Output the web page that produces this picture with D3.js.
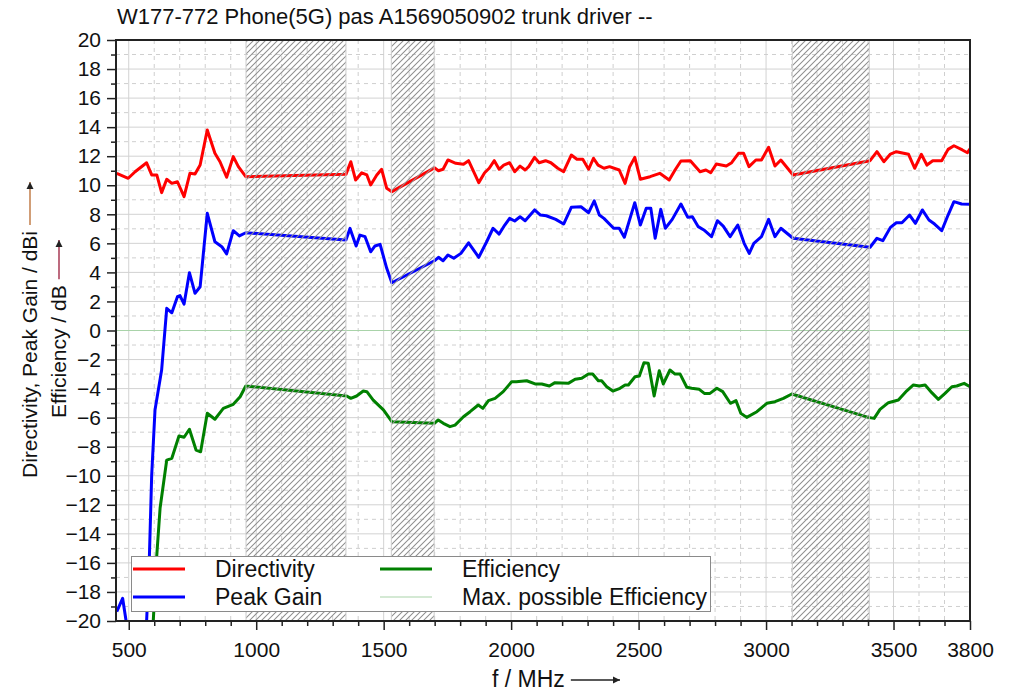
<!DOCTYPE html>
<html><head><meta charset="utf-8">
<script src="https://cdn.jsdelivr.net/npm/d3@7"></script>
<style>
html,body{margin:0;padding:0;background:#fff;}
svg{display:block;font-family:"Liberation Sans",Arial,sans-serif;}
</style></head>
<body>
<svg id="chart" width="1020" height="693"></svg>
<script>
const titleText = "W177-772 Phone(5G) pas A1569050902 trunk driver --";
const xTicks = [500,1000,1500,2000,2500,3000,3500,3800];
const yTicks = [-20,-18,-16,-14,-12,-10,-8,-6,-4,-2,0,2,4,6,8,10,12,14,16,18,20];
const hatchBands = [[960,1352],[1530,1698],[3103,3405]];
const seriesNames = ["Directivity","Peak Gain","Efficiency","Max. possible Efficiency"];

const dirFreq = [453,498,525,570,590,610,629,649,669,691,717,740,760,780,808,838,858,884,910,930,959,
 1352,1371,1390,1414,1434,1449,1473,1492,1512,1532,1699,1715,1733,1752,1783,1813,1833,1873,1896,1914,1934,1953,1971,1994,
 2014,2035,2055,2069,2092,2110,2135,2156,2183,2206,2236,2258,2281,2304,2323,2341,2364,2386,2424,2447,2465,2485,
 2507,2545,2583,2620,2643,2666,2703,2741,2764,2783,2805,2844,2865,2892,2912,2933,2960,2982,3010,3035,3058,3106,
 3408,3435,3462,3488,3511,3559,3583,3609,3631,3654,3689,3714,3737,3770,3790,3800];
const dirVal = [10.82,10.48,10.93,11.55,10.71,10.71,9.49,10.41,10.13,10.24,9.21,10.82,10.77,11.39,13.80,12.20,11.62,10.55,11.97,11.28,10.59,
 10.75,11.62,10.36,10.86,10.71,10.02,10.71,11.10,9.79,9.56,11.2,11.0,11.10,11.74,11.51,11.44,11.69,10.18,10.86,11.17,11.69,11.10,11.39,11.55,
 10.93,11.32,11.05,11.28,11.92,11.55,11.69,11.55,11.17,10.93,12.08,11.79,11.79,11.10,11.86,11.39,11.17,11.28,11.05,10.13,11.28,11.92,
 10.41,10.59,10.82,10.36,11.05,11.67,11.69,10.93,11.05,10.86,11.46,11.32,11.55,12.20,12.20,11.28,11.74,11.74,12.61,11.32,11.74,10.71,
 11.69,12.31,11.62,12.15,12.31,12.13,11.17,12.13,11.39,11.69,11.69,12.47,12.72,12.43,12.24,12.5];

const gainFreq = [453,476,489,501,535,570,581,590,603,629,649,669,691,701,717,738,760,780,808,838,865,884,910,934,959,
 1352,1368,1392,1407,1427,1449,1466,1486,1512,1532,1699,1715,1733,1752,1775,1803,1833,1873,1904,1929,1953,1975,1994,
 2014,2035,2055,2092,2115,2138,2175,2206,2236,2274,2304,2326,2346,2364,2402,2424,2444,2485,2507,2530,2548,2565,2587,
 2605,2632,2666,2693,2711,2734,2756,2786,2809,2832,2859,2889,2914,2934,2952,2982,3010,3035,3058,3106,
 3408,3435,3458,3488,3511,3533,3563,3586,3613,3639,3661,3689,3714,3737,3767,3800];
const gainVal = [-19.36,-18.44,-19.93,-21.3,-23,-20.05,-15.57,-9.95,-5.47,-2.72,1.53,1.22,2.33,2.40,1.82,3.98,2.56,3.01,8.07,6.11,5.77,5.27,6.87,6.51,6.73,
 6.23,7.03,5.82,6.57,6.46,5.42,5.82,5.93,4.28,3.29,4.80,5.04,4.80,5.20,4.97,5.31,6.04,5.04,6.11,7.04,6.64,7.26,7.72,
 7.54,7.83,7.56,8.30,7.95,7.90,7.65,7.33,8.48,8.52,8.11,8.92,7.95,7.72,7.04,7.04,6.42,8.80,7.26,8.41,8.41,6.35,8.34,
 7.04,7.65,8.71,7.79,7.83,7.15,6.92,6.46,7.56,7.19,6.46,7.26,6.0,5.31,6.0,6.46,7.65,6.46,7.04,6.35,
 5.73,6.35,6.18,7.10,7.42,7.42,7.95,7.38,8.30,7.61,7.33,6.87,7.95,8.87,8.71,8.69];

const effFreq = [585,596,610,623,649,669,697,717,738,764,782,808,838,871,910,937,959,
 1355,1371,1394,1420,1434,1459,1499,1532,1699,1714,1734,1760,1780,1813,1839,1871,1889,1911,1937,1969,
 2002,2020,2061,2094,2120,2150,2172,2224,2251,2277,2303,2320,2342,2355,2375,2399,2427,2447,2460,2486,
 2503,2521,2538,2561,2581,2597,2623,2643,2663,2689,2708,2738,2758,2780,2807,2830,2860,2882,2901,2924,2964,
 3003,3035,3068,3101,3401,3424,3447,3480,3519,3552,3578,3601,3624,3650,3676,3702,3729,3748,3777,3800];
const effVal = [-21.3,-20.05,-15.46,-12.22,-8.92,-8.80,-7.26,-7.35,-6.80,-8.23,-8.35,-5.70,-6.11,-5.36,-5.08,-4.56,-3.82,
 -4.51,-4.67,-4.51,-4.17,-4.21,-4.79,-5.47,-6.28,-6.39,-6.16,-6.39,-6.62,-6.51,-5.94,-5.59,-5.13,-5.36,-4.83,-4.67,-4.21,
 -3.53,-3.53,-3.46,-3.68,-3.68,-3.82,-3.59,-3.64,-3.36,-3.29,-3.0,-3.0,-3.46,-3.46,-3.87,-4.17,-3.98,-3.75,-3.75,-3.18,
 -3.13,-2.22,-2.26,-4.51,-2.77,-3.68,-2.72,-3.0,-3.0,-3.91,-3.98,-4.05,-4.33,-4.33,-3.98,-4.21,-5.01,-4.83,-5.70,-5.98,-5.59,
 -5.01,-4.90,-4.67,-4.37,-5.98,-6.05,-5.43,-4.97,-4.79,-4.15,-3.75,-3.82,-3.75,-4.28,-4.74,-4.33,-3.87,-3.82,-3.64,-3.87];

const maxEffFreq = [450,3800];
const maxEffVal = [0,0];

const svg = d3.select("#chart");
const L=116,R=970,T=40,B=621;
const x = d3.scaleLinear().domain([450,3800]).range([L,R]);
const y = d3.scaleLinear().domain([-20,20]).range([B,T]);

const defs = svg.append("defs");
defs.append("clipPath").attr("id","plotclip").append("rect")
  .attr("x",L).attr("y",T).attr("width",R-L).attr("height",B-T);
const pat = defs.append("pattern").attr("id","hatch").attr("patternUnits","userSpaceOnUse")
  .attr("width",6).attr("height",6);
pat.append("path").attr("d","M-1,1 l2,-2 M0,6 l6,-6 M5,7 l2,-2")
  .attr("stroke","#8e8e8e").attr("stroke-width",1.05).attr("fill","none");

// grid
const grid = svg.append("g");
const vMinor = d3.range(500,3800,100);
grid.selectAll("line.v").data(vMinor).join("line")
  .attr("x1",d=>x(d)).attr("x2",d=>x(d)).attr("y1",T).attr("y2",B)
  .attr("stroke",d=>d%500===0?"#d2d2d2":"#cfcfcf")
  .attr("stroke-dasharray",d=>d%500===0?null:"4,4").attr("stroke-width",1);
const hMinor = d3.range(-19,20,1);
grid.selectAll("line.h").data(hMinor).join("line")
  .attr("y1",d=>y(d)).attr("y2",d=>y(d)).attr("x1",L).attr("x2",R)
  .attr("stroke",d=>d%2===0?"#d2d2d2":"#cfcfcf")
  .attr("stroke-dasharray",d=>d%2===0?null:"4,4").attr("stroke-width",1);

// series
const plot = svg.append("g").attr("clip-path","url(#plotclip)");
const line = d3.line().x(d=>x(d[0])).y(d=>y(d[1]));
plot.append("path").datum(maxEffFreq.map((f,i)=>[f,maxEffVal[i]]))
  .attr("d",line).attr("fill","none").attr("stroke","#a9d3a9").attr("stroke-width",1);
const series = [
  {f:effFreq,v:effVal,c:"#008000"},
  {f:gainFreq,v:gainVal,c:"#0000ff"},
  {f:dirFreq,v:dirVal,c:"#ff0000"}
];
series.forEach(s=>{
  plot.append("path").datum(s.f.map((f,i)=>[f,s.v[i]]))
    .attr("d",line).attr("fill","none").attr("stroke",s.c)
    .attr("stroke-width",3).attr("stroke-linejoin","round");
});

// hatch bands
svg.append("g").selectAll("rect").data(hatchBands).join("rect")
  .attr("x",d=>x(d[0])).attr("width",d=>x(d[1])-x(d[0]))
  .attr("y",T).attr("height",B-T)
  .attr("fill","url(#hatch)").attr("stroke","#cccccc").attr("stroke-width",1);

// axes
const fs = 21;
const xMajor = d3.axisBottom(x).tickValues(xTicks).tickSize(9).tickPadding(12).tickFormat(d3.format("d"));
const xMin = d3.axisBottom(x).tickValues(d3.range(500,3800,100).filter(d=>d%500!==0)).tickSize(5).tickFormat("");
const gx = svg.append("g").attr("transform",`translate(0,${B})`).call(xMajor);
svg.append("g").attr("transform",`translate(0,${B})`).call(xMin).select(".domain").remove();
const yMajor = d3.axisLeft(y).tickValues(yTicks).tickSize(9).tickPadding(6);
const yMin = d3.axisLeft(y).tickValues(d3.range(-19,20,2)).tickSize(5).tickFormat("");
const gy = svg.append("g").attr("transform",`translate(${L},0)`).call(yMajor);
svg.append("g").attr("transform",`translate(${L},0)`).call(yMin).select(".domain").remove();
svg.selectAll(".tick line").attr("stroke","#222").attr("stroke-width",1.5);
svg.selectAll(".domain").remove();
[gx,gy].forEach(g=>g.selectAll("text").attr("font-size",fs).attr("fill","#111")
  .attr("font-family","'Liberation Sans',Arial,sans-serif"));
// frame
svg.append("rect").attr("x",L).attr("y",T).attr("width",R-L).attr("height",B-T)
  .attr("fill","none").attr("stroke","#222").attr("stroke-width",2);

// title
svg.append("text").attr("x",117).attr("y",24).attr("font-size",22).attr("fill","#111").text(titleText);

function arrow(x1,y1,x2,y2,col){
  const g=svg.append("g");
  g.append("line").attr("x1",x1).attr("y1",y1).attr("x2",x2).attr("y2",y2)
    .attr("stroke",col).attr("stroke-width",1.3);
  const ang=Math.atan2(y2-y1,x2-x1), a=7, w=3.5;
  const p=[[x2,y2],[x2-a*Math.cos(ang)+w*Math.sin(ang),y2-a*Math.sin(ang)-w*Math.cos(ang)],
           [x2-a*Math.cos(ang)-w*Math.sin(ang),y2-a*Math.sin(ang)+w*Math.cos(ang)]];
  g.append("path").attr("d","M"+p.map(q=>q.join(",")).join("L")+"Z").attr("fill","#222");
}

// x title
const xt = svg.append("text").attr("x",492).attr("y",687).attr("font-size",23).attr("fill","#111").text("f / MHz");
const xtw = xt.node().getComputedTextLength();
arrow(492+xtw+6,680,620,680,"#222");

// y titles
const y1t = svg.append("text").attr("transform","translate(37,478) rotate(-90)")
  .attr("font-size",fs).attr("fill","#111").text("Directivity, Peak Gain / dBi");
const y1w = y1t.node().getComputedTextLength();
arrow(30,478-y1w-6,30,182,"#b8692e");
const y2t = svg.append("text").attr("transform","translate(66,418) rotate(-90)")
  .attr("font-size",fs).attr("fill","#111").text("Efficiency / dB");
const y2w = y2t.node().getComputedTextLength();
arrow(59,418-y2w-6,59,240,"#9a1b3a");

// legend
const lg = svg.append("g");
lg.append("rect").attr("x",131.5).attr("y",556.5).attr("width",579).attr("height",55)
  .attr("fill","#fff").attr("stroke","#8a8a8a").attr("stroke-width",1);
const legItems = [
  {name:seriesNames[0],c:"#ff0000",w:3,lx:133,ty:569},
  {name:seriesNames[1],c:"#0000ff",w:3,lx:133,ty:597},
  {name:seriesNames[2],c:"#008000",w:3,lx:380,ty:569},
  {name:seriesNames[3],c:"#a9d3a9",w:1,lx:380,ty:597}
];
legItems.forEach(d=>{
  lg.append("line").attr("x1",d.lx).attr("x2",d.lx+52).attr("y1",d.ty).attr("y2",d.ty)
    .attr("stroke",d.c).attr("stroke-width",d.w);
  lg.append("text").attr("x",d.lx+82).attr("y",d.ty+8).attr("font-size",23).attr("fill","#111").text(d.name);
});
</script>
</body></html>
